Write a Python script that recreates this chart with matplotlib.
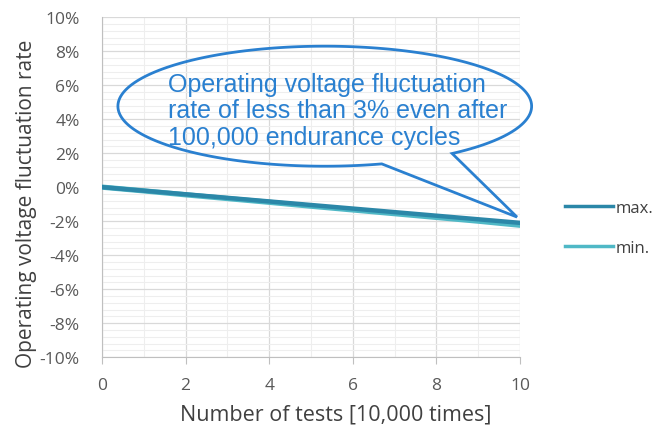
import numpy as np
import matplotlib.pyplot as plt
from matplotlib.patches import Polygon
from matplotlib.ticker import MultipleLocator, FuncFormatter

tests = [0, 1, 2, 3, 4, 5, 6, 7, 8, 9, 10]
rate_max = [0.0, -0.21, -0.42, -0.63, -0.84, -1.05, -1.26, -1.47, -1.68, -1.89, -2.10]
rate_min = [0.0, -0.22, -0.45, -0.67, -0.89, -1.12, -1.34, -1.56, -1.78, -2.00, -2.24]
callout = "Operating voltage fluctuation\nrate of less than 3% even after\n100,000 endurance cycles"

plt.rcParams['font.family'] = ['Open Sans', 'DejaVu Sans']

fig = plt.figure(figsize=(6.54, 4.31), dpi=100)
ax = fig.add_axes([0.156, 0.169, 0.639, 0.789])

ax.plot(tests, rate_min, color='#4fb8c6', lw=3.8, label='min.', zorder=3)
ax.plot(tests, rate_max, color='#2b87a8', lw=3.2, label='max.', zorder=4)

ax.set_xlim(0, 10)
ax.set_ylim(-10, 10)
ax.xaxis.set_major_locator(MultipleLocator(2))
ax.xaxis.set_minor_locator(MultipleLocator(1))
ax.yaxis.set_major_locator(MultipleLocator(2))
ax.yaxis.set_minor_locator(MultipleLocator(0.4))
ax.yaxis.set_major_formatter(FuncFormatter(lambda v, p: f"{v:.0f}%"))
ax.grid(which='major', color='#d9d9d9', lw=0.9)
ax.grid(which='minor', color='#eeeeee', lw=0.8)
ax.set_axisbelow(True)
for s in ['top', 'right']:
    ax.spines[s].set_visible(False)
for s in ['left', 'bottom']:
    ax.spines[s].set_color('#bfbfbf')
ax.tick_params(axis='x', which='major', colors='#bfbfbf', labelcolor='#595959',
               labelsize=12.5, length=5, pad=9)
ax.tick_params(axis='x', which='minor', length=0)
ax.tick_params(axis='y', which='both', length=0, labelcolor='#595959', labelsize=12.5, pad=16)

ax.set_xlabel('Number of tests [10,000 times]', fontsize=15.5, color='#404040')
ax.xaxis.set_label_coords(0.56, -0.135)
ax.set_ylabel('Operating voltage fluctuation rate', fontsize=15, color='#404040')
ax.yaxis.set_label_coords(-0.155, 0.455)

# speech bubble
cx, cy, rx, ry = 5.33, 4.76, 4.95, 3.53
tip = (9.93, -1.76)
a0, a1 = np.deg2rad(-52), np.deg2rad(286)
t = np.linspace(a0, a1, 200)
pts = np.column_stack([cx + rx * np.cos(t), cy + ry * np.sin(t)])
pts = np.vstack([pts, tip])
ax.add_patch(Polygon(pts, closed=True, fill=False, edgecolor='#2a80d0', lw=2,
                     clip_on=False, zorder=5))
ax.text(1.58, 6.8, callout, fontsize=18, color='#2a80d0', va='top', ha='left',
        family=['Liberation Sans', 'DejaVu Sans'], linespacing=1.15, zorder=6)

h, l = ax.get_legend_handles_labels()
leg = fig.legend(h[::-1], l[::-1], loc='center left', bbox_to_anchor=(0.864, 0.469),
                 frameon=False, fontsize=12, handlelength=2.9, labelspacing=1.4,
                 handletextpad=0.15, borderpad=0, borderaxespad=0, labelcolor='#404040')
for ln in leg.get_lines():
    ln.set_linewidth(2.5)

fig.savefig('out.png', dpi=100)
